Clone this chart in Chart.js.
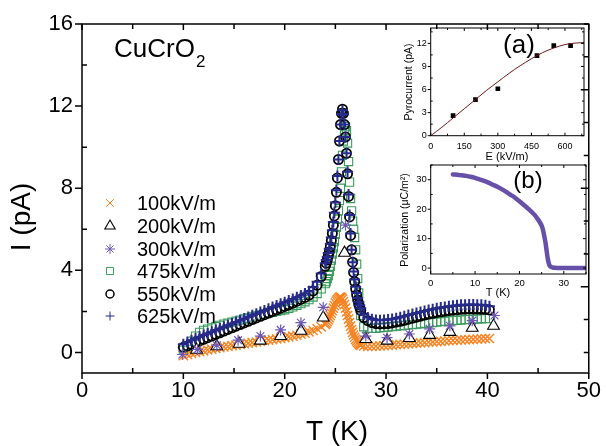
<!DOCTYPE html>
<html><head><meta charset="utf-8">
<script src="https://cdn.jsdelivr.net/npm/chart.js@4.4.0/dist/chart.umd.min.js"></script>
<style>
html,body{margin:0;padding:0;background:#fff;}
#wrap{position:relative;width:606px;height:446px;overflow:hidden;background:#fff;}
canvas{position:absolute;left:0;top:0;}
</style></head><body>
<div id="wrap">
<canvas id="main" width="606" height="446"></canvas>
<canvas id="insetA" width="606" height="446"></canvas>
<canvas id="insetB" width="606" height="446"></canvas>
</div>
<script>
// ---------------- DATA ----------------
const seriesLabels = ['100kV/m','200kV/m','300kV/m','475kV/m','550kV/m','625kV/m'];

// shared temperature grid for densely sampled runs (K)
const tDense = [
 10.0,10.4,10.8,11.2,11.6,12.0,12.4,12.8,13.2,13.6,14.0,14.4,14.8,15.2,15.6,16.0,16.4,16.8,17.2,17.6,18.0,18.4,18.8,19.2,19.6,20.0,20.4,20.8,21.2,21.6,22.0,22.4,22.8,23.2,23.6,24.0,
 24.1,24.2,24.3,24.4,24.5,24.6,24.7,24.8,24.9,25.0,25.1,25.2,25.3,25.4,25.5,25.6,25.7,25.8,25.9,26.0,26.1,26.2,26.3,26.4,26.5,26.6,26.7,26.8,26.9,27.0,27.1,27.2,27.3,27.4,27.5,
 27.8,28.2,28.6,29.0,29.4,29.8,30.2,30.6,31.0,31.4,31.8,32.2,32.6,33.0,33.4,33.8,34.2,34.6,35.0,35.4,35.8,36.2,36.6,37.0,37.4,37.8,38.2,38.6,39.0,39.4,39.8,40.2];

const i100 = [
 -0.15,-0.10,-0.05,0.00,0.04,0.08,0.12,0.16,0.20,0.24,0.27,0.30,0.33,0.36,0.39,0.42,0.45,0.48,0.51,0.54,0.57,0.60,0.63,0.66,0.69,0.72,0.76,0.80,0.84,0.89,0.94,1.00,1.07,1.15,1.25,1.37,
 1.42,1.50,1.60,1.70,1.80,1.92,2.04,2.16,2.28,2.40,2.50,2.58,2.64,2.68,2.70,2.67,2.60,2.48,2.33,2.16,1.98,1.80,1.62,1.45,1.28,1.12,0.98,0.85,0.74,0.64,0.56,0.49,0.43,0.38,0.34,
 0.32,0.30,0.30,0.31,0.32,0.33,0.35,0.36,0.38,0.39,0.41,0.42,0.44,0.45,0.47,0.48,0.50,0.51,0.53,0.54,0.56,0.57,0.59,0.60,0.61,0.62,0.63,0.64,0.65,0.66,0.67,0.68];

const i475 = [
 0.10,0.30,0.55,0.80,0.98,1.08,1.14,1.20,1.26,1.32,1.38,1.43,1.48,1.53,1.58,1.63,1.68,1.73,1.78,1.83,1.88,1.92,1.96,2.00,2.04,2.08,2.15,2.22,2.30,2.38,2.47,2.57,2.70,2.87,3.10,3.35,
 3.45,3.60,3.75,3.95,4.20,4.50,4.80,5.10,5.40,5.75,6.10,6.50,6.90,7.40,8.00,8.80,9.60,10.30,10.80,11.00,10.80,10.20,9.30,8.30,7.50,6.90,6.40,6.00,5.60,5.00,4.30,3.60,2.90,2.30,1.80,
 1.25,1.18,1.17,1.18,1.20,1.22,1.24,1.26,1.28,1.30,1.32,1.34,1.36,1.38,1.40,1.42,1.44,1.46,1.48,1.50,1.52,1.54,1.55,1.57,1.58,1.60,1.61,1.62,1.63,1.64,1.65,1.66];

const i550 = [
 0.25,0.32,0.40,0.48,0.56,0.64,0.72,0.80,0.88,0.96,1.04,1.12,1.20,1.28,1.36,1.44,1.52,1.60,1.68,1.76,1.84,1.92,2.00,2.08,2.16,2.24,2.32,2.41,2.50,2.59,2.68,2.80,3.00,3.28,3.70,4.20,
 4.35,4.50,4.70,4.90,5.15,5.45,5.80,6.20,6.65,7.15,7.80,8.50,9.40,10.30,11.10,11.65,11.85,11.65,11.10,10.50,9.70,8.70,7.60,6.60,5.70,5.00,4.40,3.90,3.45,3.10,2.80,2.55,2.35,2.20,2.05,
 1.70,1.55,1.46,1.41,1.39,1.40,1.41,1.44,1.48,1.52,1.57,1.62,1.67,1.72,1.77,1.82,1.87,1.91,1.95,1.98,2.01,2.04,2.06,2.08,2.10,2.11,2.12,2.12,2.12,2.11,2.10,2.07];

const i625 = [
 0.40,0.50,0.60,0.68,0.76,0.85,0.93,1.01,1.09,1.17,1.25,1.33,1.41,1.49,1.57,1.65,1.73,1.81,1.89,1.97,2.05,2.13,2.21,2.29,2.37,2.45,2.53,2.61,2.69,2.78,2.87,2.98,3.18,3.45,3.85,4.35,
 4.50,4.65,4.85,5.05,5.30,5.60,5.95,6.35,6.80,7.30,7.90,8.60,9.40,10.30,11.10,11.60,11.80,11.60,11.10,10.50,9.70,8.80,7.70,6.70,5.80,5.00,4.40,3.95,3.55,3.20,2.90,2.65,2.45,2.30,2.15,
 1.85,1.70,1.62,1.58,1.57,1.58,1.60,1.63,1.67,1.72,1.77,1.82,1.87,1.92,1.97,2.02,2.07,2.11,2.15,2.19,2.22,2.25,2.28,2.30,2.32,2.33,2.34,2.34,2.33,2.32,2.30,2.25];

// sparsely sampled runs
const t200 = [11.3,13.3,15.5,17.6,19.6,21.6,23.8,25.9,28.0,30.1,32.3,34.3,36.3,38.5,40.6];
const i200 = [0.13,0.30,0.42,0.57,0.80,1.05,1.70,4.85,0.65,0.57,0.70,0.85,1.00,1.20,1.30];
const t300 = [9.9,11.4,13.3,15.4,17.6,19.6,21.6,23.8,26.0,28.0,30.1,32.3,34.3,36.3,38.5,40.7];
const i300 = [-0.10,0.15,0.35,0.60,0.80,1.10,1.45,2.20,6.20,0.80,0.72,0.90,1.15,1.30,1.55,1.80];

// main axes ticks
const xTickVals = [0,5,10,15,20,25,30,35,40,45,50];
const xLabelVals = [0,10,20,30,40,50];
const yTickVals = [0,2,4,6,8,10,12,14,16];
const yLabelVals = [0,4,8,12,16];
const rightTickVals = [0,1.6,3.2,4.8,6.4,8.0,9.6,11.2,12.8,14.4,16.0];

// inset (a): pyrocurrent peak vs poling field
const pyroE = [100,200,300,475,550,625];
const pyroI = [2.6,4.7,6.1,10.4,11.7,11.7];
const fitE = [0,50,100,150,200,250,300,350,400,450,500,550,600,650,685];
const fitI = [0,1.1,2.3,3.5,4.7,5.9,7.0,8.1,9.1,10.0,10.8,11.4,11.85,12.05,12.1];
const aXTicks = [0,75,150,225,300,375,450,525,600,675];
const aXLabels = [0,150,300,450,600];
const aYTicks = [0,1.5,3,4.5,6,7.5,9,10.5,12,13.5];
const aYLabels = [0,3,6,9,12];

// inset (b): polarization vs temperature
const polT = [5,6,7,8,9,10,11,12,13,14,15,16,17,18,19,20,21,22,23,23.5,24,24.5,25,25.3,25.6,25.9,26.1,26.3,26.5,26.7,27,27.5,28,29,30,32,34,35];
const polP = [31.8,31.7,31.5,31.3,31.0,30.6,30.1,29.6,29.0,28.3,27.6,26.8,25.9,24.9,23.9,22.7,21.4,20.1,18.7,17.9,16.9,15.8,14.4,13.0,10.8,8.4,6.2,4.0,2.3,1.2,0.5,0.2,0.1,0,0,0,0,0];
const bXTicks = [0,5,10,15,20,25,30,35];
const bXLabels = [0,10,20,30];
const bYTicks = [0,5,10,15,20,25,30,35];
const bYLabels = [0,10,20,30];

// ---------------- RENDER ----------------
const FONT = "'Liberation Sans', Arial, Helvetica, sans-serif";
Chart.defaults.font.family = FONT;
Chart.defaults.color = '#000';

const pts = (xs, ys) => xs.map((x, i) => ({x: x, y: ys[i]}));

function pointDraw(ctx, style, r, bw, x, y) {
  if (Chart.helpers && Chart.helpers.drawPoint) {
    Chart.helpers.drawPoint(ctx, {pointStyle: style, radius: r, rotation: 0, borderWidth: bw}, x, y);
  }
}

function drawFrame(chart, lw, sides) {
  const ctx = chart.ctx, a = chart.chartArea, sx = chart.scales.x, sy = chart.scales.y;
  ctx.save();
  ctx.strokeStyle = '#000';
  ctx.lineWidth = lw;
  ctx.strokeRect(a.left, a.top, a.right - a.left, a.bottom - a.top);
  ctx.beginPath();
  (sides.bottom || []).forEach(([v, len]) => { const x = sx.getPixelForValue(v); ctx.moveTo(x, a.bottom); ctx.lineTo(x, a.bottom - len); });
  (sides.top || []).forEach(([v, len]) => { const x = sx.getPixelForValue(v); ctx.moveTo(x, a.top); ctx.lineTo(x, a.top + len); });
  (sides.left || []).forEach(([v, len]) => { const y = sy.getPixelForValue(v); ctx.moveTo(a.left, y); ctx.lineTo(a.left + len, y); });
  (sides.right || []).forEach(([v, len]) => { const y = sy.getPixelForValue(v); ctx.moveTo(a.right, y); ctx.lineTo(a.right - len, y); });
  ctx.stroke();
  ctx.restore();
}

const mainDatasets = [
  {label: seriesLabels[0], data: pts(tDense, i100), pointStyle: 'crossRot', pointRadius: 6.5, borderColor: '#f5821f', backgroundColor: '#f5821f', pointBorderWidth: 1.4, order: 5},
  {label: seriesLabels[1], data: pts(t200, i200), pointStyle: 'triangle', pointRadius: 6.8, borderColor: '#000000', backgroundColor: '#ffffff', pointBorderWidth: 1.1, order: 1},
  {label: seriesLabels[2], data: pts(t300, i300), pointStyle: 'star', pointRadius: 5.5, borderColor: '#6f58b5', backgroundColor: '#6f58b5', pointBorderWidth: 1.2, order: 0},
  {label: seriesLabels[3], data: pts(tDense, i475), pointStyle: 'rect', pointRadius: 5.8, borderColor: '#3a9a5c', backgroundColor: 'rgba(255,255,255,0)', pointBorderWidth: 1.1, order: 4},
  {label: seriesLabels[4], data: pts(tDense, i550), pointStyle: 'circle', pointRadius: 4.6, borderColor: '#000000', backgroundColor: 'rgba(255,255,255,0)', pointBorderWidth: 1.8, order: 3},
  {label: seriesLabels[5], data: pts(tDense, i625), pointStyle: 'cross', pointRadius: 5.5, borderColor: '#262a8c', backgroundColor: '#262a8c', pointBorderWidth: 2, order: 2}
];
mainDatasets.forEach(d => { d.pointBorderColor = d.borderColor; d.pointBackgroundColor = d.backgroundColor; d.showLine = false; });

const legendRows = [203, 226, 249, 271, 294, 316];
const legendSizes = [5.5, 6, 5, 5, 4, 4.5];
const legendWidths = [1, 1.1, 1, 1, 1.5, 1];

const mainDecor = {
  id: 'mainDecor',
  afterDraw(chart) {
    const ctx = chart.ctx;
    drawFrame(chart, 1.5, {
      bottom: xTickVals.map(v => [v, xLabelVals.includes(v) ? -6 : 5]),
      top: xTickVals.map(v => [v, xLabelVals.includes(v) ? 6 : 5]),
      left: yTickVals.map(v => [v, yLabelVals.includes(v) ? -7 : 5]),
      right: rightTickVals.map((v, i) => [v, (i % 3 === 2) ? 8 : 5])
    });
    ctx.save();
    ctx.fillStyle = '#000';
    // title
    ctx.font = '26px ' + FONT;
    ctx.textAlign = 'left'; ctx.textBaseline = 'alphabetic';
    ctx.fillText('CuCrO', 114, 57);
    const w = ctx.measureText('CuCrO').width;
    ctx.font = '17px ' + FONT;
    ctx.fillText('2', 114 + w + 1, 67);
    // axis titles
    ctx.font = '28px ' + FONT;
    ctx.textAlign = 'center'; ctx.textBaseline = 'middle';
    ctx.fillText('T (K)', 337, 432);
    ctx.save();
    ctx.translate(22, 217); ctx.rotate(-Math.PI / 2);
    ctx.fillText('I (pA)', 0, 0);
    ctx.restore();
    // legend
    ctx.font = '20px ' + FONT;
    ctx.textAlign = 'left'; ctx.textBaseline = 'middle';
    chart.data.datasets.forEach((d, i) => {
      const y = legendRows[i];
      ctx.save();
      ctx.strokeStyle = d.borderColor; ctx.fillStyle = d.backgroundColor; ctx.lineWidth = legendWidths[i];
      pointDraw(ctx, d.pointStyle, legendSizes[i], legendWidths[i], 110, y);
      ctx.restore();
      ctx.fillStyle = '#000';
      ctx.fillText(d.label, 137, y + 1);
    });
    ctx.restore();
  }
};

new Chart(document.getElementById('main'), {
  type: 'scatter',
  data: {datasets: mainDatasets},
  options: {
    responsive: false, animation: false, events: [], devicePixelRatio: 1,
    layout: {padding: {left: 0, top: 24, right: 13, bottom: 0}},
    plugins: {legend: {display: false}, tooltip: {enabled: false}},
    scales: {
      x: {type: 'linear', min: 0, max: 50,
        afterBuildTicks: s => { s.ticks = xTickVals.map(v => ({value: v})); },
        afterFit: s => { s.height = 73; },
        grid: {display: false, drawTicks: false}, border: {display: false},
        ticks: {autoSkip: false, maxRotation: 0, padding: 5, color: '#000', font: {size: 22, family: FONT},
          callback: v => xLabelVals.includes(v) ? String(v) : ''}},
      y: {type: 'linear', min: -1, max: 16,
        afterBuildTicks: s => { s.ticks = yTickVals.map(v => ({value: v})); },
        afterFit: s => { s.width = 82; },
        grid: {display: false, drawTicks: false}, border: {display: false},
        ticks: {autoSkip: false, padding: 9, color: '#000', font: {size: 22, family: FONT},
          callback: v => yLabelVals.includes(v) ? String(v) : ''}}
    }
  },
  plugins: [mainDecor]
});

// ---- inset (a)
const insetADecor = {
  id: 'insetADecor',
  afterDraw(chart) {
    const ctx = chart.ctx;
    drawFrame(chart, 1, {
      bottom: aXTicks.map(v => [v, aXLabels.includes(v) ? 3 : 2]),
      top: aXTicks.map(v => [v, aXLabels.includes(v) ? 3 : 2]),
      left: aYTicks.map(v => [v, aYLabels.includes(v) ? -3 : 2]),
      right: aYTicks.map(v => [v, aYLabels.includes(v) ? 3 : 2])
    });
    ctx.save();
    ctx.fillStyle = '#000';
    ctx.textAlign = 'center'; ctx.textBaseline = 'middle';
    ctx.font = '11px ' + FONT;
    ctx.fillText('E (kV/m)', 507, 157);
    ctx.save();
    ctx.translate(409, 82); ctx.rotate(-Math.PI / 2);
    ctx.font = '10.5px ' + FONT;
    ctx.fillText('Pyrocurrent (pA)', 0, 0);
    ctx.restore();
    ctx.font = '26px ' + FONT;
    ctx.fillText('(a)', 519, 46);
    ctx.restore();
  }
};

new Chart(document.getElementById('insetA'), {
  type: 'scatter',
  data: {datasets: [
    {data: pts(fitE, fitI), showLine: true, borderColor: '#6e1a1a', borderWidth: 1, pointRadius: 0, cubicInterpolationMode: 'monotone', fill: false},
    {data: pts(pyroE, pyroI), pointStyle: 'rect', pointRadius: 3.3, borderColor: '#000', backgroundColor: '#000', pointBackgroundColor: '#000', pointBorderColor: '#000', pointBorderWidth: 0}
  ]},
  options: {
    responsive: false, animation: false, events: [], devicePixelRatio: 1,
    layout: {padding: {left: 394.7, top: 28, right: 22, bottom: 280.3}},
    plugins: {legend: {display: false}, tooltip: {enabled: false}},
    scales: {
      x: {type: 'linear', min: 0, max: 685,
        afterBuildTicks: s => { s.ticks = aXTicks.map(v => ({value: v})); },
        afterFit: s => { s.height = 30; },
        grid: {display: false, drawTicks: false}, border: {display: false},
        ticks: {autoSkip: false, maxRotation: 0, padding: 5, color: '#000', font: {size: 9, family: FONT},
          callback: v => aXLabels.includes(v) ? String(v) : ''}},
      y: {type: 'linear', min: 0, max: 14,
        afterBuildTicks: s => { s.ticks = aYTicks.map(v => ({value: v})); },
        afterFit: s => { s.width = 36; },
        grid: {display: false, drawTicks: false}, border: {display: false},
        ticks: {autoSkip: false, padding: 4, color: '#000', font: {size: 9, family: FONT},
          callback: v => aYLabels.includes(v) ? String(v) : ''}}
    }
  },
  plugins: [insetADecor]
});

// ---- inset (b)
const insetBDecor = {
  id: 'insetBDecor',
  afterDraw(chart) {
    const ctx = chart.ctx;
    drawFrame(chart, 1, {
      bottom: bXTicks.map(v => [v, bXLabels.includes(v) ? 3 : 2]),
      top: bXTicks.map(v => [v, bXLabels.includes(v) ? 3 : 2]),
      left: bYTicks.map(v => [v, bYLabels.includes(v) ? -3 : 2]),
      right: bYTicks.map(v => [v, bYLabels.includes(v) ? 3 : 2])
    });
    ctx.save();
    ctx.fillStyle = '#000';
    ctx.textAlign = 'center'; ctx.textBaseline = 'middle';
    ctx.font = '11px ' + FONT;
    ctx.fillText('T (K)', 498, 293);
    ctx.save();
    ctx.translate(405, 220); ctx.rotate(-Math.PI / 2);
    ctx.font = '10.5px ' + FONT;
    ctx.fillText('Polarization (\u03bcC/m\u00b2)', 0, 0);
    ctx.restore();
    ctx.font = '24px ' + FONT;
    ctx.fillText('(b)', 528, 181);
    ctx.restore();
  }
};

new Chart(document.getElementById('insetB'), {
  type: 'scatter',
  data: {datasets: [
    {data: pts(polT, polP), showLine: true, borderColor: '#6650a8', borderWidth: 4.5, pointRadius: 0, cubicInterpolationMode: 'monotone', fill: false, borderCapStyle: 'round'}
  ]},
  options: {
    responsive: false, animation: false, events: [], devicePixelRatio: 1,
    layout: {padding: {left: 394.7, top: 165, right: 20, bottom: 143}},
    plugins: {legend: {display: false}, tooltip: {enabled: false}},
    scales: {
      x: {type: 'linear', min: 0, max: 35,
        afterBuildTicks: s => { s.ticks = bXTicks.map(v => ({value: v})); },
        afterFit: s => { s.height = 29; },
        grid: {display: false, drawTicks: false}, border: {display: false},
        ticks: {autoSkip: false, maxRotation: 0, padding: 4, color: '#000', font: {size: 9.5, family: FONT},
          callback: v => bXLabels.includes(v) ? String(v) : ''}},
      y: {type: 'linear', min: -2, max: 35,
        afterBuildTicks: s => { s.ticks = bYTicks.map(v => ({value: v})); },
        afterFit: s => { s.width = 36; },
        grid: {display: false, drawTicks: false}, border: {display: false},
        ticks: {autoSkip: false, padding: 4, color: '#000', font: {size: 9.5, family: FONT},
          callback: v => bYLabels.includes(v) ? String(v) : ''}}
    }
  },
  plugins: [insetBDecor]
});
</script>
</body></html>
